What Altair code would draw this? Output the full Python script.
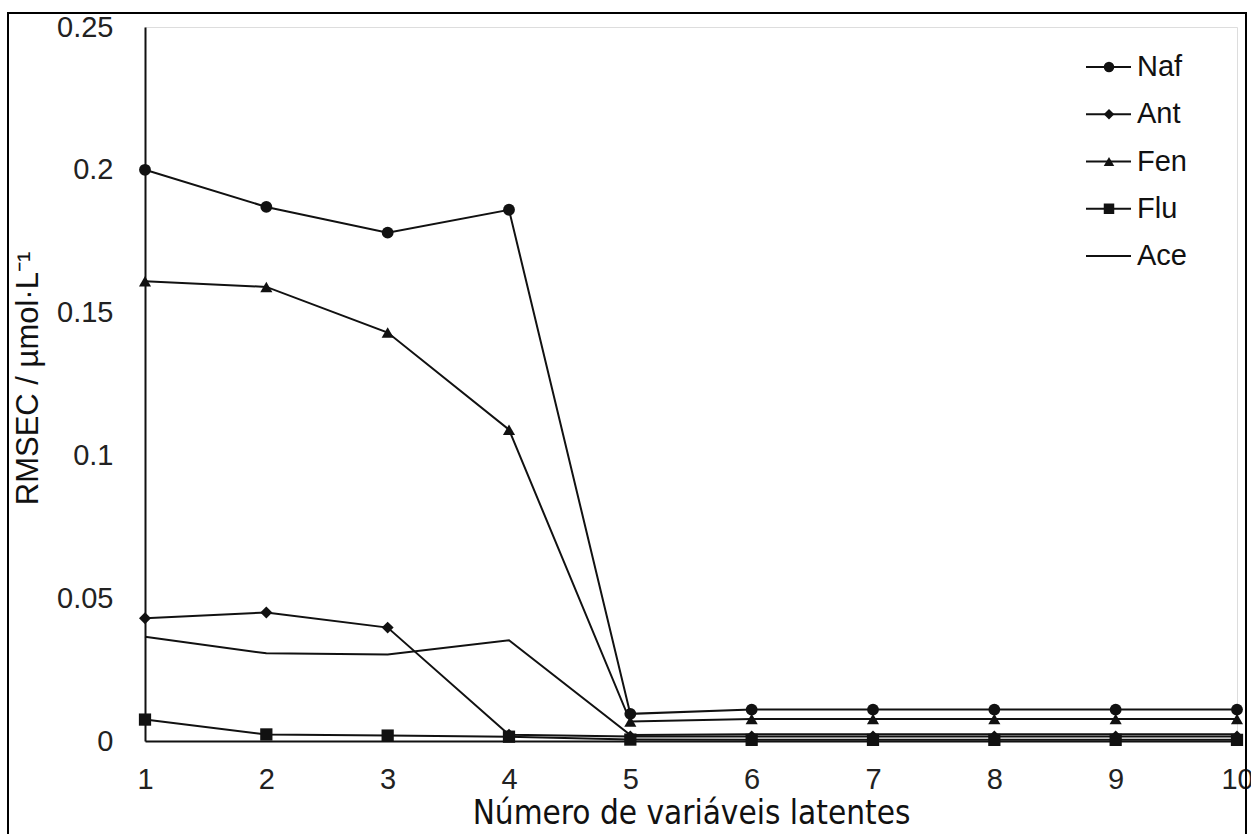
import altair as alt
import pandas as pd

# ---- data ----
n_latent = [1, 2, 3, 4, 5, 6, 7, 8, 9, 10]
naf = [0.200, 0.187, 0.178, 0.186, 0.0095, 0.011, 0.011, 0.011, 0.011, 0.011]
ant = [0.043, 0.045, 0.0397, 0.0022, 0.0016, 0.0016, 0.0016, 0.0016, 0.0016, 0.0016]
fen = [0.161, 0.159, 0.143, 0.109, 0.0068, 0.0077, 0.0077, 0.0077, 0.0077, 0.0077]
flu = [0.0075, 0.0023, 0.0019, 0.0015, 0.0005, 0.0004, 0.0004, 0.0004, 0.0004, 0.0004]
ace = [0.0365, 0.0307, 0.0303, 0.0353, 0.0021, 0.0024, 0.0024, 0.0024, 0.0024, 0.0024]

series_names = ["Naf", "Ant", "Fen", "Flu", "Ace"]
series_values = [naf, ant, fen, flu, ace]
marker_series = ["Naf", "Ant", "Fen", "Flu"]
marker_shapes = ["circle", "diamond", "triangle-up", "square"]
x_ticks = [1, 2, 3, 4, 5, 6, 7, 8, 9, 10]
y_ticks = [0, 0.05, 0.1, 0.15, 0.2, 0.25]

rows = []
for name, vals in zip(series_names, series_values):
    for x, v in zip(n_latent, vals):
        rows.append({"serie": name, "n": x, "rmsec": v})
df = pd.DataFrame(rows)
legend_df = pd.DataFrame({"serie": series_names, "idx": list(range(len(series_names)))})

INK = "#111111"
W, H = 1092, 714

x_enc = alt.X("n:Q",
              scale=alt.Scale(domain=[1, 10], nice=False, zero=False),
              axis=alt.Axis(values=x_ticks, format="d", title="Número de variáveis latentes",
                            grid=False, ticks=False, domainColor=INK, domainWidth=2,
                            labelFontSize=29, labelColor="#222222", labelPadding=24,
                            labelFont="Liberation Sans", labelFlush=False,
                            titleFont="DejaVu Sans Condensed", titleFontSize=33,
                            titleFontWeight="normal", titleColor="#111111", titlePadding=3))
y_enc = alt.Y("rmsec:Q",
              scale=alt.Scale(domain=[0, 0.25], nice=False),
              axis=alt.Axis(values=y_ticks, format="~g", title="RMSEC / µmol·L⁻¹",
                            grid=False, ticks=False, domainColor=INK, domainWidth=2,
                            labelFontSize=29, labelColor="#222222", labelPadding=32,
                            labelFont="Liberation Sans", labelFlush=False,
                            titleFont="Liberation Sans", titleFontSize=31,
                            titleFontWeight="normal", titleColor="#111111", titlePadding=12,
                            titleY=351))

lines = alt.Chart(df).mark_line(color=INK, strokeWidth=2).encode(
    x=x_enc, y=y_enc, detail="serie:N")

points = alt.Chart(df).transform_filter(
    alt.FieldOneOfPredicate(field="serie", oneOf=marker_series)
).mark_point(filled=True, color=INK, opacity=1).encode(
    x="n:Q", y="rmsec:Q",
    shape=alt.Shape("serie:N", scale=alt.Scale(domain=marker_series, range=marker_shapes), legend=None),
    size=alt.Size("serie:N", scale=alt.Scale(domain=marker_series, range=[140, 150, 150, 225]), legend=None),
)

main = alt.layer(lines, points)

leg_y = alt.Y("idx:Q", scale=alt.Scale(domain=[0, 4], range=[40, 229]), axis=None)
leg_lines = alt.Chart(legend_df).mark_rule(color=INK, strokeWidth=2).encode(
    y=leg_y, x=alt.value(941), x2=alt.value(986))
leg_pts = alt.Chart(legend_df).transform_filter(
    alt.FieldOneOfPredicate(field="serie", oneOf=marker_series)
).mark_point(filled=True, color=INK, opacity=1).encode(
    y=leg_y, x=alt.value(964),
    shape=alt.Shape("serie:N", scale=alt.Scale(domain=marker_series, range=marker_shapes), legend=None),
    size=alt.value(110))
leg_text = alt.Chart(legend_df).mark_text(align="left", baseline="middle", fontSize=29,
                                          font="Liberation Sans", color="#111111").encode(
    y=leg_y, x=alt.value(992), text="serie:N")
legend = alt.layer(leg_lines, leg_pts, leg_text)

frame = alt.Chart(legend_df).mark_rect(filled=False, stroke="black", strokeWidth=2).encode(
    x=alt.value(-137), x2=alt.value(1101), y=alt.value(-14), y2=alt.value(830))

chart = alt.layer(main, legend, frame).resolve_scale(y="independent").properties(
    width=W, height=H,
    autosize=alt.AutoSizeParams(type="none"),
    padding={"left": 145, "top": 27, "right": 14, "bottom": 93},
).configure_view(stroke=None).configure(background="white")

chart.save("out.html", embed_options={"renderer": "svg", "actions": False})
